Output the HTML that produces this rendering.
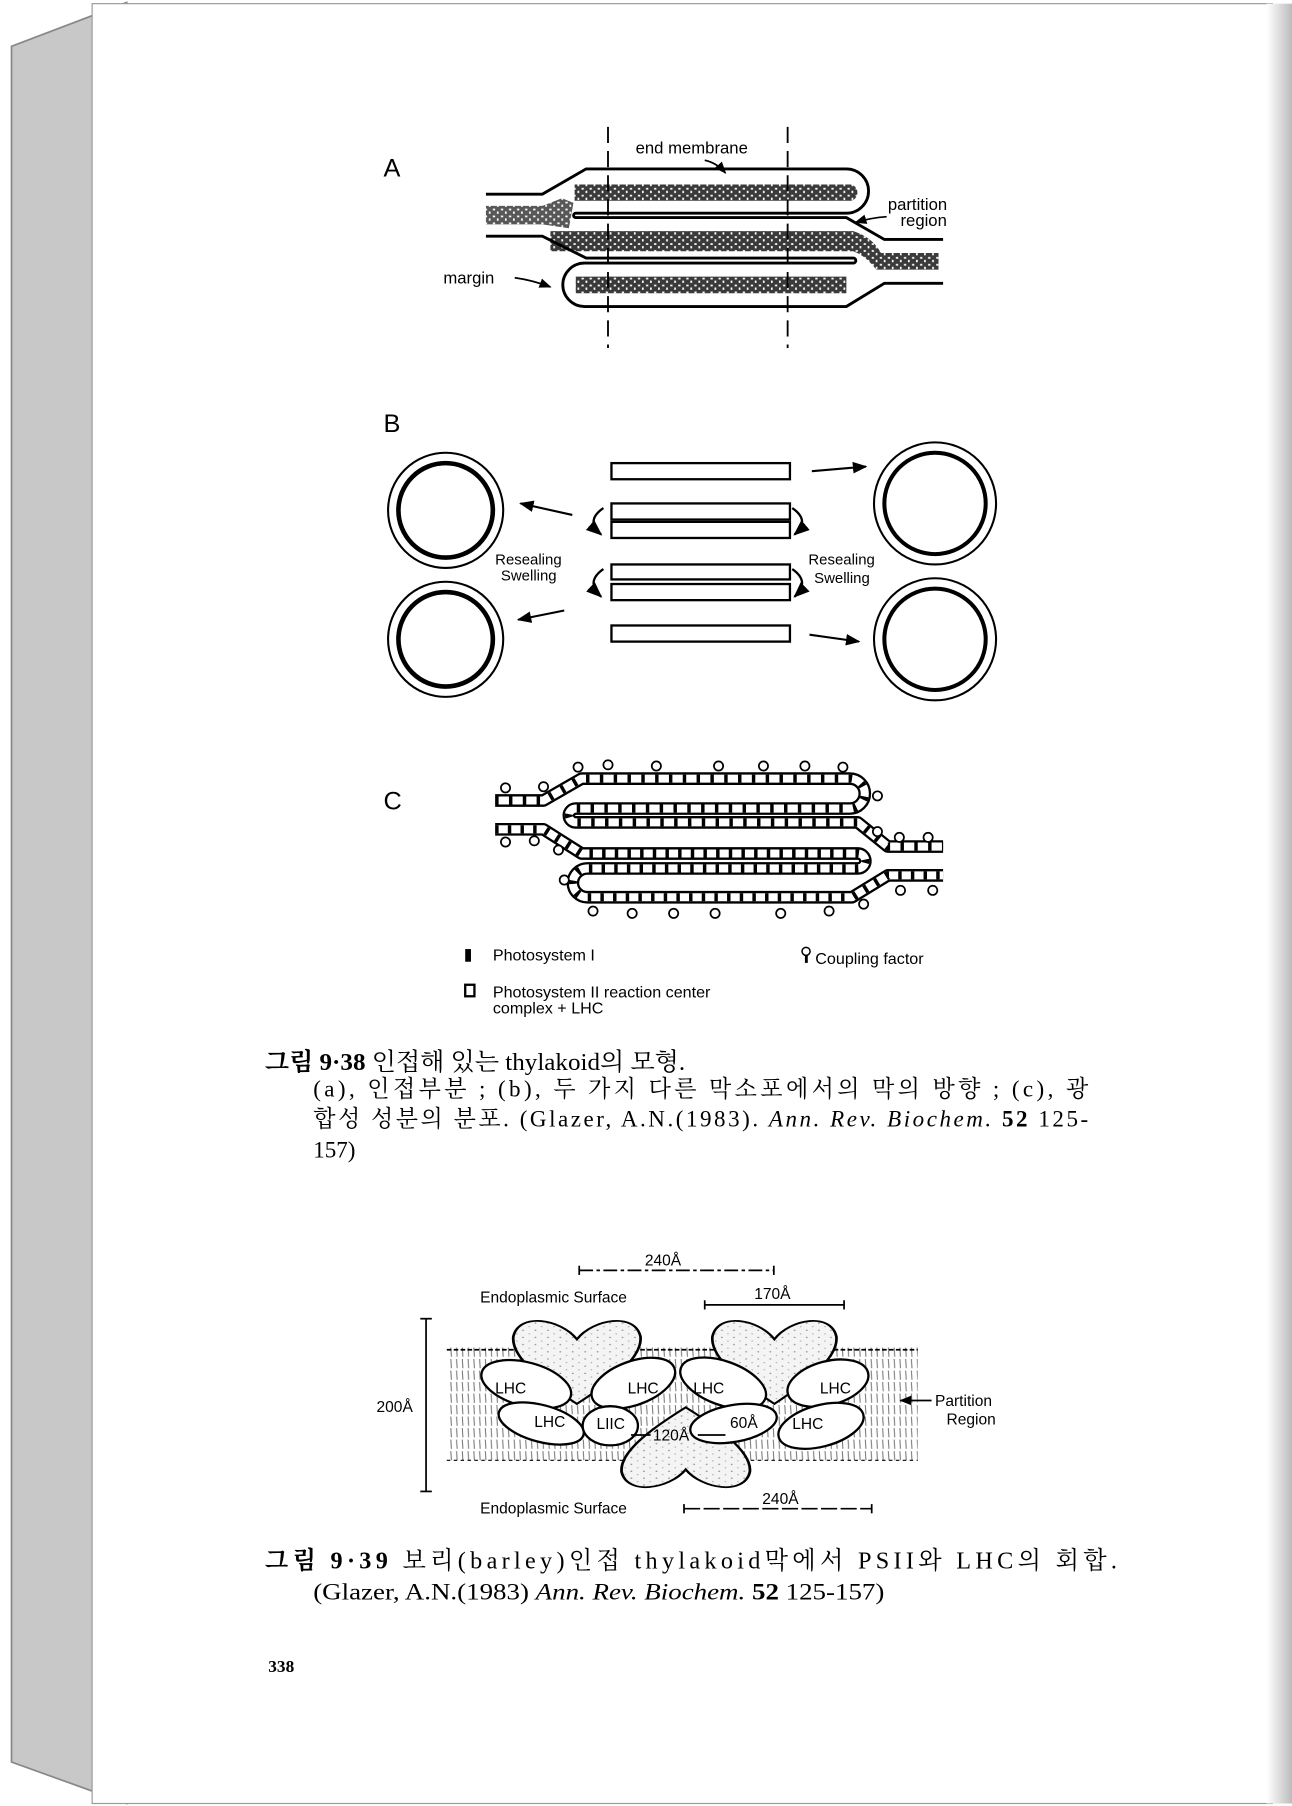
<!DOCTYPE html>
<html><head><meta charset="utf-8"><style>
html,body{margin:0;padding:0;background:#fff;}
svg{display:block;}
</style></head><body>
<svg width="1292" height="1806" viewBox="0 0 1122 1568" xmlns="http://www.w3.org/2000/svg">
<defs>
<linearGradient id="rs" x1="0" x2="1" y1="0" y2="0"><stop offset="0" stop-color="#fff"/><stop offset="1" stop-color="#bcbcbc"/></linearGradient>
<pattern id="dk" width="7" height="6" patternUnits="userSpaceOnUse"><rect width="7" height="6" fill="#3a3a3a"/><rect x="1" y="1" width="2" height="1.5" fill="#fff"/><rect x="4.5" y="3.5" width="1.5" height="2" fill="#fff"/></pattern>
<pattern id="lt" width="9" height="8" patternUnits="userSpaceOnUse"><rect width="9" height="8" fill="#f4f4f4"/><circle cx="2" cy="2" r="0.7" fill="#888"/><circle cx="6.5" cy="6" r="0.6" fill="#999"/></pattern>
<pattern id="ht" width="5" height="10" patternUnits="userSpaceOnUse"><rect width="5" height="10" fill="#fff"/><line x1="1.5" y1="0" x2="2" y2="8" stroke="#555" stroke-width="0.9"/></pattern>
<marker id="ah" viewBox="0 0 10 10" refX="9" refY="5" markerWidth="7" markerHeight="7" orient="auto"><path d="M0,1 L10,5 L0,9 Z" fill="#000"/></marker>
<path id="heart" d="M50,28 C38,5 8,-2 4,25 C2,50 30,80 50,100 C70,80 98,50 96,25 C92,-2 62,5 50,28 Z"/>
</defs>

<rect x="0" y="0" width="1122" height="1568" fill="#fff"/>
<polygon points="10,40 110,2 110,1566 10,1530" fill="#c8c8c8" stroke="#888" stroke-width="1.5"/>
<rect x="80" y="3" width="1025" height="1563" fill="#fff" stroke="#999" stroke-width="1"/>
<rect x="1100" y="3" width="22" height="1563" fill="url(#rs)"/>

<g fill="none" stroke="#000" font-family="Liberation Sans, DejaVu Sans, sans-serif">
<!-- ===== A ===== -->
<text x="333" y="153" font-size="22" fill="#000" stroke="none">A</text>
<g stroke="none">
<path d="M499,160 H739 A7.3 7.3 0 0 1 739,174.2 H499 Z" fill="url(#dk)"/>
<path d="M422,178.6 H471 L488,172 L498,176 L494,198 L471,194.7 H422 Z" fill="url(#dk)" opacity="0.85"/>
<path d="M478,200.5 H741 Q758,206 765,219.5 H815 V234 H761 Q752,222 741,218 H478 Z" fill="url(#dk)"/>
<path d="M500,240 H735 V254.5 H500 Z" fill="url(#dk)"/>
</g>
<path d="M422,168.4 H471 L509,146.5 H735 A19.25 19.25 0 0 1 735,185 H500 A1.9 1.9 0 0 0 500,188.8 H735 L768,207.8 H819" stroke-width="2.5"/>
<path d="M422,204.9 H471 L509,223.9 H741 A2.2 2.2 0 0 1 741,228.3 H507.6 A18.85 18.85 0 0 0 507.6,266 H735 L768,245.8 H819" stroke-width="2.5"/>
<line x1="528" y1="110" x2="528" y2="302" stroke-width="1.6" stroke-dasharray="14,7"/>
<line x1="684" y1="110" x2="684" y2="302" stroke-width="1.6" stroke-dasharray="14,7"/>
<text x="552" y="133" font-size="14.5" fill="#000" stroke="none">end membrane</text>
<path d="M612,139 Q622,141 630,150" stroke-width="1.5" marker-end="url(#ah)"/>
<text x="771" y="182" font-size="14.5" fill="#000" stroke="none">partition</text>
<text x="782" y="196" font-size="14.5" fill="#000" stroke="none">region</text>
<path d="M770,188 Q756,189 743,193" stroke-width="1.5" marker-end="url(#ah)"/>
<text x="385" y="246" font-size="14.5" fill="#000" stroke="none">margin</text>
<path d="M447,241 Q462,243 478,249" stroke-width="1.5" marker-end="url(#ah)"/>

<!-- ===== B ===== -->
<text x="333" y="375" font-size="22" fill="#000" stroke="none">B</text>
<g fill="#fff" stroke-width="2">
<rect x="531" y="402" width="155" height="14"/>
<rect x="531" y="437" width="155" height="14"/>
<rect x="531" y="453" width="155" height="14"/>
<rect x="531" y="490" width="155" height="13"/>
<rect x="531" y="507" width="155" height="14"/>
<rect x="531" y="543" width="155" height="14"/>
</g>
<path d="M524,441 Q508,452 522,464" stroke-width="2" marker-end="url(#ah)"/>
<path d="M688,441 Q704,452 690,464" stroke-width="2" marker-end="url(#ah)"/>
<path d="M524,494 Q508,505 522,518" stroke-width="2" marker-end="url(#ah)"/>
<path d="M688,494 Q704,505 690,518" stroke-width="2" marker-end="url(#ah)"/>
<circle cx="387" cy="443" r="50" stroke-width="1.8"/><circle cx="387" cy="443" r="41" stroke-width="4"/>
<circle cx="387" cy="555" r="50" stroke-width="1.8"/><circle cx="387" cy="555" r="41" stroke-width="4"/>
<circle cx="812" cy="437" r="53" stroke-width="1.8"/><circle cx="812" cy="437" r="44" stroke-width="3.5"/>
<circle cx="812" cy="555" r="53" stroke-width="1.8"/><circle cx="812" cy="555" r="44" stroke-width="3.5"/>
<line x1="497" y1="447" x2="452" y2="437" stroke-width="1.8" marker-end="url(#ah)"/>
<line x1="490" y1="530" x2="450" y2="538" stroke-width="1.8" marker-end="url(#ah)"/>
<line x1="705" y1="409" x2="752" y2="405" stroke-width="1.8" marker-end="url(#ah)"/>
<line x1="703" y1="551" x2="746" y2="557" stroke-width="1.8" marker-end="url(#ah)"/>
<g font-size="13" fill="#000" stroke="none">
<text x="430" y="490">Resealing</text><text x="435" y="504">Swelling</text>
<text x="702" y="490">Resealing</text><text x="707" y="506">Swelling</text>
</g>

<!-- ===== C ===== -->
<text x="333" y="703" font-size="22" fill="#000" stroke="none">C</text>
<g stroke-linejoin="round">
<path d="M430,695 H472 L505,676 H738 A13 13 0 0 1 738,702 H500 A6 6 0 0 0 500,714 H745 L771,735 H819" stroke-width="11"/>
<path d="M430,695 H472 L505,676 H738 A13 13 0 0 1 738,702 H500 A6 6 0 0 0 500,714 H745 L771,735 H819" stroke="#fff" stroke-width="7"/>
<path d="M430,695 H472 L505,676 H738 A13 13 0 0 1 738,702 H500 A6 6 0 0 0 500,714 H745 L771,735 H819" stroke-width="7" stroke-dasharray="3,9"/>
<path d="M430,720 H472 L505,741 H745 A6.5 6.5 0 0 1 745,754 H510 A12.5 12.5 0 0 0 510,779 H740 L771,760 H819" stroke-width="11"/>
<path d="M430,720 H472 L505,741 H745 A6.5 6.5 0 0 1 745,754 H510 A12.5 12.5 0 0 0 510,779 H740 L771,760 H819" stroke="#fff" stroke-width="7"/>
<path d="M430,720 H472 L505,741 H745 A6.5 6.5 0 0 1 745,754 H510 A12.5 12.5 0 0 0 510,779 H740 L771,760 H819" stroke-width="7" stroke-dasharray="3,8"/>
</g>
<g stroke-width="1.5" fill="#fff">
<circle cx="502" cy="666" r="4"/><circle cx="528" cy="664" r="4"/><circle cx="570" cy="665" r="4"/><circle cx="624" cy="665" r="4"/><circle cx="663" cy="665" r="4"/><circle cx="699" cy="665" r="4"/><circle cx="732" cy="666" r="4"/>
<circle cx="439" cy="684" r="4"/><circle cx="472" cy="683" r="4"/>
<circle cx="439" cy="731" r="4"/><circle cx="464" cy="730" r="4"/><circle cx="485" cy="738" r="4"/>
<circle cx="762" cy="691" r="4"/><circle cx="762" cy="722" r="4"/><circle cx="781" cy="727" r="4"/><circle cx="806" cy="727" r="4"/>
<circle cx="515" cy="791" r="4"/><circle cx="549" cy="793" r="4"/><circle cx="585" cy="793" r="4"/><circle cx="621" cy="793" r="4"/><circle cx="678" cy="793" r="4"/><circle cx="720" cy="791" r="4"/><circle cx="750" cy="785" r="4"/>
<circle cx="490" cy="764" r="4"/><circle cx="782" cy="773" r="4"/><circle cx="810" cy="773" r="4"/>
</g>
<rect x="404" y="824" width="5" height="11" fill="#000" stroke="none"/>
<text x="428" y="834" font-size="14" fill="#000" stroke="none">Photosystem I</text>
<circle cx="700" cy="826" r="3.5" stroke-width="1.3"/><rect x="699" y="829" width="2.5" height="7" fill="#000" stroke="none"/>
<text x="708" y="837" font-size="14" fill="#000" stroke="none">Coupling factor</text>
<rect x="404" y="855" width="8" height="10" stroke-width="2"/>
<text x="428" y="866" font-size="14" fill="#000" stroke="none">Photosystem II reaction center</text>
<text x="428" y="880" font-size="14" fill="#000" stroke="none">complex + LHC</text>

<!-- ===== 9.39 ===== -->
<rect x="388" y="1170" width="409" height="98" fill="url(#ht)" stroke="none" opacity="0.8"/>
<line x1="388" y1="1172" x2="797" y2="1172" stroke-width="1.5" stroke-dasharray="4,2"/>
<line x1="388" y1="1268" x2="797" y2="1268" stroke-width="1" stroke-dasharray="3,3"/>
<g fill="url(#lt)" stroke-width="2">
<use href="#heart" transform="translate(441,1141) scale(1.2,0.78)"/>
<use href="#heart" transform="translate(614,1141) scale(1.17,0.78)"/>
<use href="#heart" transform="translate(535,1297) scale(1.21,-0.75)"/>
</g>
<g fill="#fff" stroke-width="2">
<ellipse cx="457" cy="1202" rx="40" ry="19" transform="rotate(15 457 1202)"/>
<ellipse cx="550" cy="1201" rx="38" ry="19" transform="rotate(-20 550 1201)"/>
<ellipse cx="628" cy="1201" rx="39" ry="19" transform="rotate(20 628 1201)"/>
<ellipse cx="719" cy="1201" rx="36" ry="19" transform="rotate(-15 719 1201)"/>
<ellipse cx="470" cy="1236" rx="38" ry="16" transform="rotate(15 470 1236)"/>
<ellipse cx="530" cy="1238" rx="24" ry="17"/>
<ellipse cx="637" cy="1236" rx="38" ry="16" transform="rotate(-10 637 1236)"/>
<ellipse cx="713" cy="1238" rx="38" ry="18" transform="rotate(-15 713 1238)"/>
</g>
<g font-size="13.5" fill="#000" stroke="none">
<text x="430" y="1210">LHC</text><text x="545" y="1210">LHC</text><text x="602" y="1210">LHC</text><text x="712" y="1210">LHC</text>
<text x="464" y="1239">LHC</text><text x="518" y="1241">LIIC</text><text x="634" y="1240">60Å</text><text x="688" y="1241">LHC</text>
<text x="567" y="1251">120Å</text>
<text x="560" y="1099">240Å</text>
<text x="417" y="1131">Endoplasmic Surface</text>
<text x="655" y="1128">170Å</text>
<text x="327" y="1226">200Å</text>
<text x="812" y="1221">Partition</text><text x="822" y="1237">Region</text>
<text x="417" y="1314">Endoplasmic Surface</text>
<text x="662" y="1306">240Å</text>
</g>
<g stroke-width="1.5">
<line x1="548" y1="1246" x2="565" y2="1246"/><line x1="606" y1="1246" x2="630" y2="1246"/>
<line x1="503" y1="1103" x2="672" y2="1103" stroke-dasharray="12,3,3,3"/><line x1="503" y1="1099" x2="503" y2="1107"/><line x1="672" y1="1099" x2="672" y2="1107"/>
<line x1="612" y1="1133" x2="733" y2="1133"/><line x1="612" y1="1129" x2="612" y2="1137"/><line x1="733" y1="1129" x2="733" y2="1137"/>
<line x1="370" y1="1145" x2="370" y2="1295"/><line x1="365" y1="1145" x2="375" y2="1145"/><line x1="365" y1="1295" x2="375" y2="1295"/>
<line x1="594" y1="1310" x2="757" y2="1310" stroke-dasharray="14,3"/><line x1="594" y1="1306" x2="594" y2="1314"/><line x1="757" y1="1306" x2="757" y2="1314"/>
<line x1="809" y1="1216" x2="782" y2="1216" marker-end="url(#ah)"/>
</g>
</g>

<!-- captions -->
<g font-family="Liberation Serif, Noto Serif CJK SC, Noto Sans CJK KR, serif" fill="#000">
<text x="230" y="929" font-size="21" textLength="365" lengthAdjust="spacingAndGlyphs"><tspan font-weight="bold">그림 9·38</tspan>  인접해 있는 thylakoid의 모형.</text>
<text x="272" y="952" font-size="20" textLength="673" lengthAdjust="spacing">(a), 인접부분 ; (b), 두 가지 다른 막소포에서의 막의 방향 ; (c), 광</text>
<text x="272" y="978" font-size="20" textLength="673" lengthAdjust="spacing">합성 성분의 분포. (Glazer, A.N.(1983). <tspan font-style="italic">Ann. Rev. Biochem.</tspan> <tspan font-weight="bold">52</tspan> 125-</text>
<text x="272" y="1005" font-size="20">157)</text>
<text x="230" y="1362" font-size="21" textLength="740" lengthAdjust="spacing"><tspan font-weight="bold">그림 9·39</tspan>  보리(barley)인접  thylakoid막에서  PSII와  LHC의  회합.</text>
<text x="272" y="1389" font-size="20" textLength="496" lengthAdjust="spacingAndGlyphs">(Glazer, A.N.(1983) <tspan font-style="italic">Ann. Rev. Biochem.</tspan> <tspan font-weight="bold">52</tspan> 125-157)</text>
<text x="233" y="1452" font-size="15" font-weight="bold">338</text>
</g>
</svg>
</body></html>
